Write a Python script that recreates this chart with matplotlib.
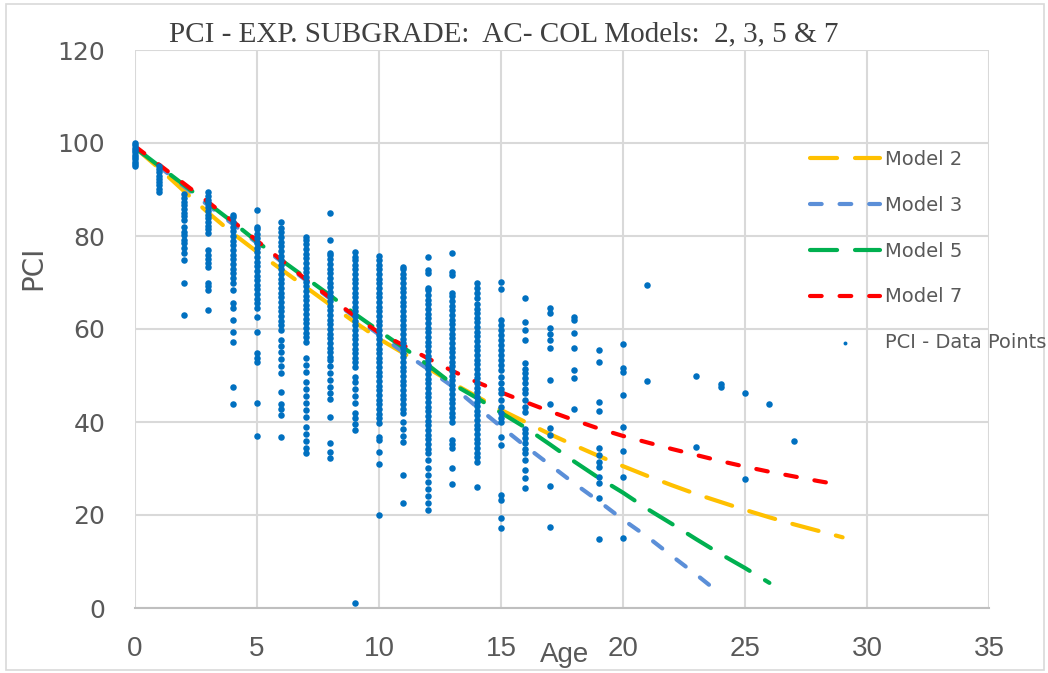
import matplotlib
matplotlib.use("Agg")
import matplotlib.pyplot as plt
from matplotlib import font_manager
from matplotlib.patches import Rectangle

# ---------------- data ----------------
model_ages_2 = list(range(0, 30))
model_2 = [99.0, 94.5, 89.7, 85.0, 80.6, 76.6, 72.8, 69.0, 65.2, 61.5, 57.9, 54.8, 51.6, 48.4, 45.5,
           42.6, 40.0, 37.4, 35.0, 32.7, 30.5, 28.4, 26.4, 24.5, 22.8, 21.1, 19.5, 18.0, 16.6, 15.2]
model_ages_3 = list(range(0, 25))
model_3 = [99.0, 94.9, 90.7, 86.6, 82.6, 78.5, 74.5, 70.5, 66.5, 62.6, 58.8, 55.0, 51.4, 47.7, 43.3,
           39.0, 34.8, 30.8, 26.8, 23.0, 19.0, 15.3, 11.2, 7.2, 3.0]
model_ages_5 = list(range(0, 27))
model_5 = [99.0, 95.0, 91.0, 87.0, 83.0, 78.8, 74.8, 71.0, 67.2, 63.3, 59.6, 56.0, 52.3, 48.2, 45.2,
           42.0, 38.8, 35.2, 31.5, 28.0, 24.8, 21.3, 18.1, 14.8, 11.6, 8.6, 5.4]
model_ages_7 = list(range(0, 30))
model_7 = [99.3, 95.3, 91.3, 87.3, 83.2, 79.0, 74.8, 70.7, 66.7, 62.8, 59.2, 56.5, 53.7, 51.0, 48.6,
           46.4, 44.3, 42.3, 40.4, 38.6, 37.0, 35.6, 34.2, 32.9, 31.6, 30.4, 29.3, 28.3, 27.3, 26.4]

pci_age_0 = [95.0, 95.5, 96.0, 96.5, 97.0, 97.5, 98.0, 98.5, 99.0, 99.5, 100.0]
pci_age_1 = [89.5, 90.2, 90.9, 91.6, 92.3, 93.0, 93.7, 94.4, 95.0]
pci_age_2 = [63.0, 70.0, 74.8, 76.3, 77.4, 78.5, 79.1, 80.2, 80.9, 81.9, 83.4, 84.2, 85.0, 85.8,
             86.6, 87.4, 88.2, 89.0]
pci_age_3 = [64.1, 68.4, 69.2, 70.0, 73.3, 74.2, 75.0, 76.0, 77.0, 80.6, 81.4, 82.2, 83.0, 83.8,
             84.6, 85.4, 86.2, 87.0, 87.8, 88.6, 89.4]
pci_age_4 = [43.9, 47.5, 57.2, 59.4, 62.0, 64.5, 65.6, 68.4, 70.0, 71.0, 72.0, 73.0, 74.0, 75.0,
             76.0, 77.0, 78.0, 79.0, 80.0, 81.0, 82.0, 83.0, 84.0, 84.5]
pci_age_5 = [37.0, 44.0, 52.9, 53.8, 54.8, 59.4, 62.6, 64.5, 65.5, 66.5, 67.5, 68.5, 69.5, 70.5,
             71.5, 72.5, 73.5, 74.5, 75.5, 76.5, 77.5, 78.5, 79.5, 80.5, 81.5, 82.0, 85.6]
pci_age_6 = [36.8, 41.5, 42.7, 43.9, 46.5, 50.5, 52.0, 53.5, 55.0, 56.3, 57.6, 59.8, 60.8, 61.8,
             62.8, 63.8, 64.8, 65.8, 66.8, 67.8, 68.8, 69.8, 70.8, 71.8, 72.8, 73.8, 74.8, 75.8,
             76.8, 77.8, 78.8, 79.8, 80.8, 81.8, 83.0]
pci_age_7 = [33.3, 34.5, 36.0, 37.5, 39.0, 41.0, 42.5, 44.0, 45.5, 47.0, 48.6, 50.8, 52.3, 53.8,
             57.2, 58.2, 59.2, 60.2, 61.2, 62.2, 63.2, 64.2, 65.2, 66.2, 67.2, 68.2, 69.2, 70.2,
             71.2, 72.2, 73.2, 74.2, 75.2, 76.2, 77.2, 78.2, 79.2, 79.8]
pci_age_8 = [32.3, 33.5, 35.5, 41.0, 45.0, 46.2, 47.5, 49.0, 50.5, 52.0, 53.3, 54.0, 55.0, 56.0,
             57.0, 58.0, 59.0, 60.0, 61.0, 62.0, 63.0, 64.0, 65.0, 66.0, 67.0, 68.0, 69.0, 70.0,
             71.0, 72.0, 73.0, 74.0, 75.0, 76.0, 76.3, 79.1, 85.0]
pci_age_9 = [1.1, 38.3, 39.5, 40.8, 41.9, 44.0, 45.5, 47.0, 48.5, 49.7, 51.8, 52.8, 53.8, 54.8,
             55.8, 56.8, 57.8, 58.8, 59.8, 60.8, 61.8, 62.8, 63.8, 64.8, 65.8, 66.8, 67.8, 68.8,
             69.8, 70.8, 71.8, 72.8, 73.8, 74.8, 75.5, 76.6]
pci_age_10 = [20.0, 31.0, 33.5, 36.1, 36.8, 39.8, 40.8, 41.8, 42.8, 43.8, 44.8, 45.8, 46.8, 47.8,
              48.8, 49.8, 50.8, 51.8, 52.8, 53.8, 54.8, 55.8, 56.8, 57.8, 58.8, 59.8, 60.8, 61.8,
              62.8, 63.8, 64.8, 65.8, 66.8, 67.8, 68.8, 69.8, 70.8, 71.8, 72.8, 73.8, 74.8, 75.8]
pci_age_11 = [22.6, 28.6, 35.7, 37.0, 38.5, 40.0, 41.9, 42.9, 43.9, 44.9, 45.9, 46.9, 47.9, 48.9,
              49.9, 50.9, 51.9, 52.9, 53.9, 54.9, 55.9, 56.9, 57.9, 58.9, 59.9, 60.9, 61.9, 62.9,
              63.9, 64.9, 65.9, 66.9, 67.9, 68.9, 69.9, 70.9, 71.9, 72.9, 73.3]
pci_age_12 = [21.0, 22.5, 24.0, 25.5, 27.0, 28.5, 30.2, 31.8, 33.3, 34.3, 35.3, 36.3, 37.3, 38.3,
              39.3, 40.3, 41.3, 42.3, 43.3, 44.3, 45.3, 46.3, 47.3, 48.3, 49.3, 50.3, 51.3, 52.3,
              53.3, 54.3, 55.3, 56.3, 57.3, 58.3, 59.3, 60.3, 61.3, 62.3, 63.3, 64.3, 65.3, 66.3,
              67.3, 68.3, 68.8, 72.0, 72.7, 75.5]
pci_age_13 = [26.7, 30.1, 34.4, 35.3, 36.1, 40.0, 41.0, 42.0, 43.0, 44.0, 45.0, 46.0, 47.0, 48.0,
              49.0, 50.0, 51.0, 52.0, 53.0, 54.0, 55.0, 56.0, 57.0, 58.0, 59.0, 60.0, 61.0, 62.0,
              63.0, 64.0, 65.0, 66.0, 67.0, 67.7, 71.6, 72.3, 76.3]
pci_age_14 = [26.0, 31.4, 32.4, 33.4, 34.4, 35.4, 36.4, 37.4, 38.4, 39.4, 40.4, 41.4, 42.4, 43.4,
              44.4, 45.4, 46.4, 47.4, 48.4, 49.4, 50.4, 51.4, 52.4, 53.4, 54.4, 55.4, 56.4, 57.4,
              58.4, 59.4, 60.4, 61.4, 62.4, 63.4, 64.4, 65.4, 66.7, 67.8, 68.8, 69.9]
pci_age_15 = [17.1, 19.3, 23.2, 24.3, 35.1, 36.8, 40.1, 40.8, 41.9, 43.3, 44.7, 46.2, 47.2, 48.3,
              49.7, 51.2, 52.3, 53.3, 54.4, 55.5, 56.6, 57.6, 58.7, 59.8, 60.9, 61.9, 68.7, 70.2]
pci_age_16 = [25.7, 27.9, 29.7, 31.8, 33.3, 34.3, 35.4, 36.5, 37.6, 38.6, 42.2, 43.3, 44.7, 46.2,
              47.2, 48.3, 49.4, 50.5, 51.5, 52.6, 57.6, 59.8, 61.6, 66.6]
pci_age_17 = [17.4, 26.2, 37.2, 38.7, 43.9, 49.0, 55.9, 57.6, 58.9, 60.2, 63.5, 64.5]
pci_age_18 = [42.8, 49.5, 51.2, 55.9, 59.1, 62.0, 62.6]
pci_age_19 = [14.8, 23.7, 26.9, 28.2, 30.3, 31.5, 32.8, 34.4, 42.3, 44.3, 52.9, 55.4]
pci_age_20 = [15.0, 28.2, 33.8, 38.9, 45.8, 50.8, 51.6, 56.8]
pci_age_21 = [48.8, 69.5]
pci_age_23 = [34.6, 49.9]
pci_age_24 = [47.5, 48.2]
pci_age_25 = [27.7, 46.2]
pci_age_26 = [43.9]
pci_age_27 = [35.9]

pci_columns = {0: pci_age_0, 1: pci_age_1, 2: pci_age_2, 3: pci_age_3, 4: pci_age_4, 5: pci_age_5,
               6: pci_age_6, 7: pci_age_7, 8: pci_age_8, 9: pci_age_9, 10: pci_age_10,
               11: pci_age_11, 12: pci_age_12, 13: pci_age_13, 14: pci_age_14, 15: pci_age_15,
               16: pci_age_16, 17: pci_age_17, 18: pci_age_18, 19: pci_age_19, 20: pci_age_20,
               21: pci_age_21, 23: pci_age_23, 24: pci_age_24, 25: pci_age_25, 26: pci_age_26,
               27: pci_age_27}

title_text = "PCI - EXP. SUBGRADE:  AC- COL Models:  2, 3, 5 & 7"
x_ticks = [0, 5, 10, 15, 20, 25, 30, 35]
y_ticks = [0, 20, 40, 60, 80, 100, 120]

# ---------------- fonts ----------------
def has_font(name):
    try:
        font_manager.findfont(name, fallback_to_default=False)
        return True
    except Exception:
        return False

narrow = "Liberation Sans Narrow" if has_font("Liberation Sans Narrow") else "Liberation Sans"
serif = "Liberation Serif"
grey_text = "#595959"

# ---------------- figure ----------------
W, H = 1048, 673
fig = plt.figure(figsize=(W / 100, H / 100), dpi=100)
fig.patches.append(Rectangle((0.006, 0.004), 0.990, 0.990, transform=fig.transFigure,
                             fill=False, edgecolor="#D9D9D9", linewidth=1.2))

ax = fig.add_axes([135 / W, 1 - 608 / H, (989 - 135) / W, (608 - 50) / H])
ax.set_xlim(0, 35)
ax.set_ylim(0, 120)
ax.set_xticks(x_ticks)
ax.set_yticks(y_ticks)
ax.grid(True, color="#D9D9D9", linewidth=1.5)
ax.set_axisbelow(True)
for s in ["top", "right", "left"]:
    ax.spines[s].set_visible(False)
ax.spines["bottom"].set_color("#BFBFBF")
ax.spines["bottom"].set_linewidth(1.5)
ax.tick_params(length=0)
ax.tick_params(axis="y", pad=21.5, labelsize=18, labelcolor=grey_text)
ax.tick_params(axis="x", pad=20, labelsize=20, labelcolor=grey_text)
for lab in ax.get_xticklabels():
    lab.set_fontfamily(narrow)

lw = 3.0
l2, = ax.plot(model_ages_2, model_2, color="#FFC000", lw=lw, dashes=(6.5, 4.3),
              dash_capstyle="round", zorder=2, label="Model 2")
l3, = ax.plot(model_ages_3, model_3, color="#5B8FD8", lw=lw, dashes=(2.8, 4.3),
              dash_capstyle="round", zorder=2, label="Model 3")
l5, = ax.plot(model_ages_5, model_5, color="#00B050", lw=lw, dashes=(6.5, 4.3),
              dash_capstyle="round", zorder=2, label="Model 5")
l7, = ax.plot(model_ages_7, model_7, color="#FF0000", lw=lw, dashes=(2.8, 4.3),
              dash_capstyle="round", zorder=2, label="Model 7")

xs, ys = [], []
for age, vals in pci_columns.items():
    xs += [age] * len(vals)
    ys += vals
sc = ax.scatter(xs, ys, s=22, color="#0070C0", linewidths=0, zorder=3, clip_on=False,
                label="PCI - Data Points")

fig.text(504 / W, 1 - 34 / H, title_text, ha="center", va="center", family=serif,
         fontsize=21, color="#404040")
fig.text(33 / W, 1 - 268 / H, "PCI", rotation=90, ha="center", va="center", fontsize=20,
         color=grey_text)
fig.text(565 / W, 1 - 655 / H, "Age", ha="center", va="center", family=narrow, fontsize=20,
         color=grey_text)

leg = fig.legend([l2, l3, l5, l7, sc], ["Model 2", "Model 3", "Model 5", "Model 7",
                                       "PCI - Data Points"],
                 loc="upper left", bbox_to_anchor=(810 / W, 1 - 150 / H), frameon=False,
                 fontsize=14, handlelength=3.6, handletextpad=0.25, labelspacing=1.38,
                 borderpad=0, borderaxespad=0, scatterpoints=1, markerscale=0.6)
for t in leg.get_texts():
    t.set_color(grey_text)

fig.savefig("out.png", dpi=100)
